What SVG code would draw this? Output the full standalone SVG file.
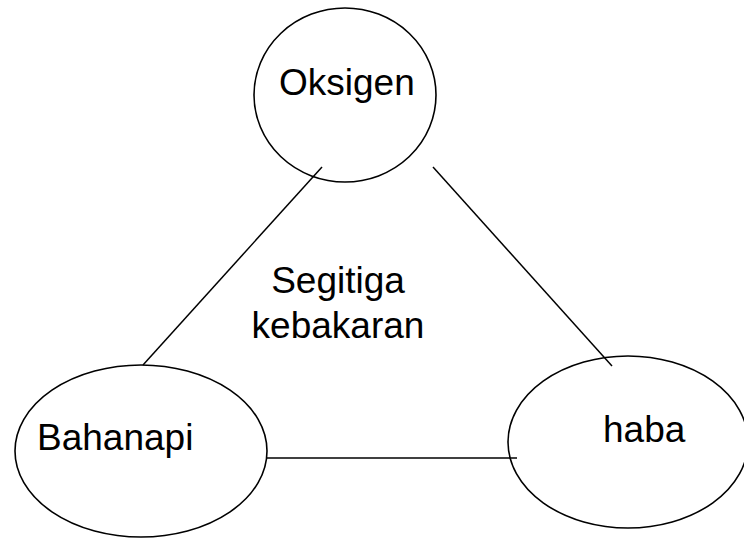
<svg xmlns="http://www.w3.org/2000/svg" width="744" height="539" viewBox="0 0 744 539">
<style>
.node ellipse{fill:none;stroke:#000;stroke-width:1.6}
.lbl{font-family:"Liberation Sans",Arial,sans-serif;font-size:37px;fill:#000}
.conn line{stroke:#000;stroke-width:1.5}
</style>
<rect width="744" height="539" fill="#fff"/>
<g id="connectors" class="conn">
<line x1="322" y1="167" x2="143" y2="365"/>
<line x1="433" y1="167" x2="612" y2="366"/>
<line x1="267" y1="458" x2="517" y2="458"/>
</g>
<g id="oksigen" class="node">
<ellipse cx="345" cy="95" rx="91" ry="87"/>
<text class="lbl" x="279" y="95">Oksigen</text>
</g>
<g id="bahanapi" class="node">
<ellipse cx="141" cy="451" rx="126" ry="86"/>
<text class="lbl" x="37" y="450">Bahanapi</text>
</g>
<g id="haba" class="node">
<ellipse cx="628" cy="442" rx="120" ry="86"/>
<text class="lbl" x="603" y="442">haba</text>
</g>
<g id="title">
<text class="lbl" x="338" y="293" text-anchor="middle">Segitiga</text>
<text class="lbl" x="338" y="338" text-anchor="middle">kebakaran</text>
</g>
</svg>
